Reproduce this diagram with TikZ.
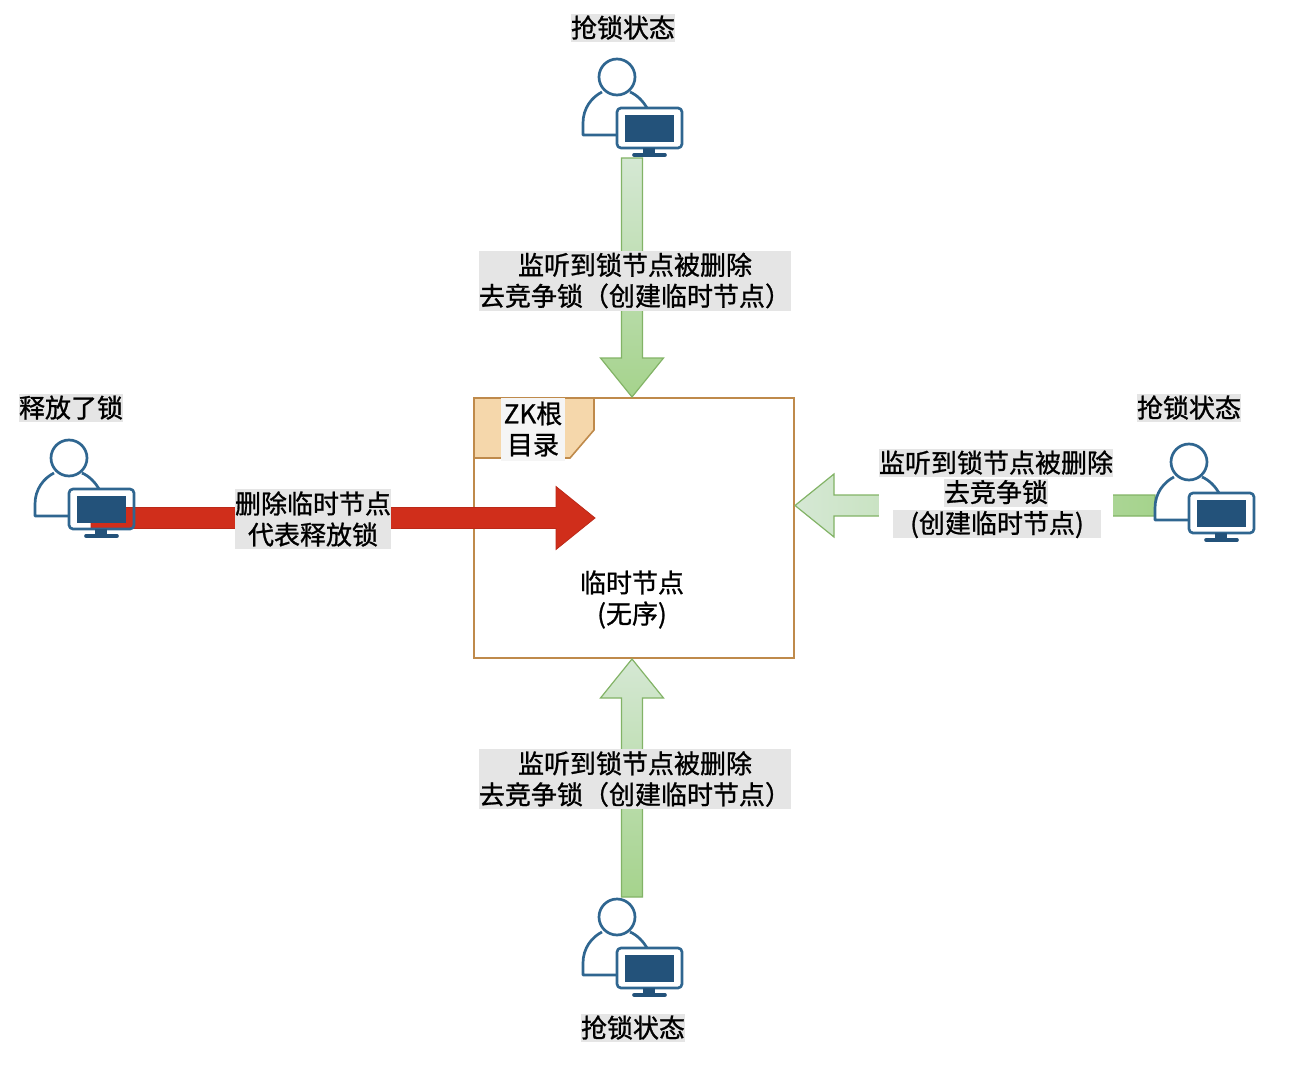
\documentclass[tikz,border=0pt]{standalone}
\usepackage{fontspec}
\setmainfont{Noto Sans CJK SC}[FakeBold=1]
\usetikzlibrary{calc}

\definecolor{iconblue}{HTML}{2F6690}
\definecolor{screenblue}{HTML}{23527A}
\definecolor{paleleaf}{HTML}{D5E8D4}
\definecolor{midleaf}{HTML}{A5D38C}
\definecolor{leafline}{HTML}{82B366}
\definecolor{lockred}{HTML}{D02E1B}
\definecolor{boxline}{HTML}{BF8A4B}
\definecolor{notefill}{HTML}{F5D7AB}

\tikzset{
	lbl/.style={fill=black!10, inner xsep=0pt, inner ysep=0pt, align=center},
	lblline/.style={lbl, text height=23.5pt, text depth=4.5pt},
	iconline/.style={draw=iconblue, line width=2.7pt, line join=round},
	pics/usericon/.style={code={
		% person
		\draw[iconline] (0,0) circle (18);
		\draw[iconline] (0,58) -- (-34,58) -- (-34,46) .. controls (-34,31) and (-25,20) .. (-15,15);
		\draw[iconline] (13,15) .. controls (20,18) and (26,24) .. (30,31);
		% monitor
		\draw[iconline, rounded corners=4pt] (0,31) rectangle (65,71);
		\fill[screenblue] (8,38) rectangle (57,65);
		\fill[screenblue] (26,71) rectangle (38,77);
		\draw[screenblue, line width=3.6pt, line cap=round] (17,78) -- (48,78);
	}}
}

% block arrow: style, start, tip
\newcommand{\blockarrow}[3]{
	\coordinate (neck) at ($(#3)!39pt!(#2)$);
	\draw[#1] ($(#2)!10.5pt!90:(#3)$) -- ($(neck)!10.5pt!-90:(#2)$) -- ($(neck)!31.5pt!-90:(#2)$) -- (#3)
	-- ($(neck)!31.5pt!90:(#2)$) -- ($(neck)!10.5pt!90:(#2)$) -- ($(#2)!10.5pt!-90:(#3)$) -- cycle;
}

\begin{document}
\begin{tikzpicture}[x=1pt, y=-1pt, every node/.style={font=\fontsize{26}{31}\selectfont}]
	\useasboundingbox (0,0) rectangle (1302,1070);
	
	% root box and its corner note
	\draw[boxline, line width=1.6pt, fill=white] (474,398) rectangle (794,658);
	\draw[boxline, line width=1.6pt, fill=notefill] (474,398) -- (594,398) -- (594,430) -- (570,458) -- (474,458) -- cycle;
	\node[fill=black!4, inner sep=0pt, align=center, minimum width=64pt, minimum height=63pt] (root) at (533,429) {ZK根\\目录};
	\node[align=center, inner sep=0pt] (temp) at (632,599.5) {临时节点\\(无序)};
	
	% arrow ends
	\coordinate (topfrom) at (632,158);
	\coordinate (toptip) at (632,397);
	\coordinate (botfrom) at (632,897);
	\coordinate (bottip) at (632,659);
	\coordinate (rightfrom) at (1155,505.5);
	\coordinate (righttip) at (795,505.5);
	\coordinate (leftfrom) at (91,518);
	\coordinate (lefttip) at (595,518);
	
	% arrows
	\blockarrow{draw=leafline, line width=1.2pt, top color=paleleaf, bottom color=midleaf}{topfrom}{toptip}
	\blockarrow{draw=leafline, line width=1.2pt, top color=paleleaf, bottom color=midleaf}{botfrom}{bottip}
	\blockarrow{draw=leafline, line width=1.2pt, left color=paleleaf, right color=midleaf}{rightfrom}{righttip}
	\blockarrow{draw=lockred!90!black, line width=0.8pt, fill=lockred}{leftfrom}{lefttip}
	
	% users
	\pic at (617,77) {usericon};
	\pic at (617,917) {usericon};
	\pic at (69,458) {usericon};
	\pic at (1189,462) {usericon};
	
	% state labels
	\node[lblline] (topstate) at (623,28) {抢锁状态};
	\node[lblline] (botstate) at (633,1028) {抢锁状态};
	\node[lblline] (leftstate) at (71,408) {释放了锁};
	\node[lblline] (rightstate) at (1189,408) {抢锁状态};
	
	% arrow labels
	\node[lbl, minimum width=312pt, minimum height=60pt] (toplabel) at (635,280.5) {监听到锁节点被删除\\去竞争锁（创建临时节点）};
	\node[lbl, minimum width=312pt, minimum height=60pt] (botlabel) at (635,779) {监听到锁节点被删除\\去竞争锁（创建临时节点）};
	\node[lbl, minimum width=156pt, minimum height=60pt] (leftlabel) at (313,519) {删除临时节点\\代表释放锁};
	
	% right label, one background per line on white
	\node[fill=white, inner sep=0pt, minimum width=234pt, minimum height=89pt] (rightback) at (996,494) {};
	\node[lblline] (rightline1) at (996,463) {监听到锁节点被删除};
	\node[lblline] (rightline2) at (996,492.5) {去竞争锁};
	\node[lblline, minimum width=208pt] (rightline3) at (997,523.5) {(创建临时节点)};
	
\end{tikzpicture}
\end{document}
